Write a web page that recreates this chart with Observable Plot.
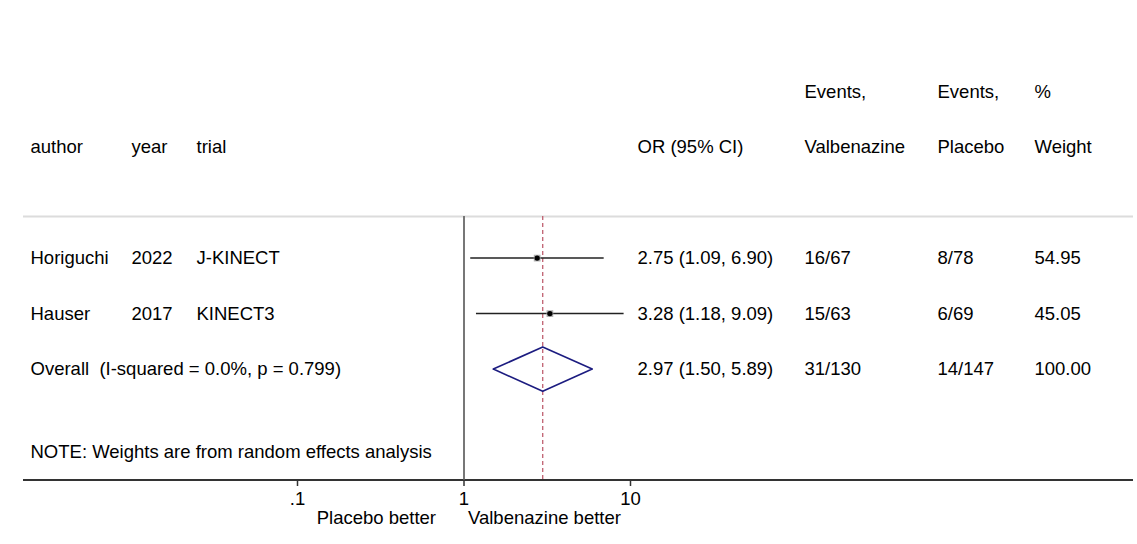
<!DOCTYPE html>
<html>
<head>
<meta charset="utf-8">
<script src="https://cdn.jsdelivr.net/npm/d3@7"></script>
<script src="https://cdn.jsdelivr.net/npm/@observablehq/plot@0.6"></script>
<style>
  html, body { margin: 0; padding: 0; background: #fff; }
  #chart svg { display: block; }
</style>
</head>
<body>
<div id="chart"></div>
<script>
// Study-level results (odds ratios with 95% CI)
const authors = ["Horiguchi", "Hauser"];
const years = ["2022", "2017"];
const trials = ["J-KINECT", "KINECT3"];
const oddsRatio = [2.75, 3.28];
const ciLow = [1.09, 1.18];
const ciHigh = [6.90, 9.09];
const eventsValbenazine = ["16/67", "15/63"];
const eventsPlacebo = ["8/78", "6/69"];
const weights = [54.95, 45.05];

// Pooled (random effects) estimate
const overallOR = 2.97;
const overallLow = 1.50;
const overallHigh = 5.89;
const overallEventsV = "31/130";
const overallEventsP = "14/147";
const overallWeight = 100.00;
const iSquared = 0.0;
const pHet = 0.799;

// Axis ticks and labels
const xTicks = [0.1, 1, 10];
const xTickLabels = [".1", "1", "10"];
const favoursLeft = "Placebo better";
const favoursRight = "Valbenazine better";
const note = "NOTE: Weights are from random effects analysis";

// Table layout: each row has a row index; columns are offsets from the frame's left edge
const FONT = "Liberation Sans, Arial, sans-serif";
const FS = 18.5;
const cols = {author: 7, year: 108, trial: 173, or: 614, evV: 781, evP: 914, weight: 1011};

const fmt2 = d3.format(".2f");
const orText = (o, l, h) => `${fmt2(o)} (${fmt2(l)}, ${fmt2(h)})`;

const studies = authors.map((a, i) => ({
  row: i + 1,
  author: a,
  year: years[i],
  trial: trials[i],
  or: oddsRatio[i],
  lo: ciLow[i],
  hi: ciHigh[i],
  evV: eventsValbenazine[i],
  evP: eventsPlacebo[i],
  weight: weights[i]
}));
const overall = {
  row: 3,
  author: `Overall  (I-squared = ${iSquared.toFixed(1)}%, p = ${pHet.toFixed(3)})`,
  or: overallOR, lo: overallLow, hi: overallHigh,
  evV: overallEventsV, evP: overallEventsP, weight: overallWeight
};
const tableRows = [
  ...studies.map(d => ({row: d.row, author: d.author, year: d.year, trial: d.trial,
    or: orText(d.or, d.lo, d.hi), evV: d.evV, evP: d.evP, weight: fmt2(d.weight)})),
  {row: overall.row, author: overall.author, year: "", trial: "",
    or: orText(overall.or, overall.lo, overall.hi), evV: overall.evV, evP: overall.evP,
    weight: fmt2(overall.weight)}
];

const headerRows = [
  {row: -2, author: "", year: "", trial: "", or: "", evV: "Events,", evP: "Events,", weight: "%"},
  {row: -1, author: "author", year: "year", trial: "trial", or: "OR (95% CI)", evV: "Valbenazine", evP: "Placebo", weight: "Weight"}
];

// Diamond outline for the pooled estimate
const dh = 0.4;
const diamond = [
  {x: overall.lo, y: overall.row},
  {x: overall.or, y: overall.row - dh},
  {x: overall.hi, y: overall.row},
  {x: overall.or, y: overall.row + dh},
  {x: overall.lo, y: overall.row}
];

const rowTop = 0.25, rowBottom = 5;

function column(key, data) {
  return Plot.text(data, {
    y: "row", text: key, frameAnchor: "left", dx: cols[key],
    textAnchor: "start", fontSize: FS, fill: "#000"
  });
}

const allRows = [...headerRows, ...tableRows];

const chart = Plot.plot({
  width: 1137,
  height: 544,
  marginLeft: 23,
  marginRight: 4,
  marginTop: 0,
  marginBottom: 64,
  style: {fontFamily: FONT, fontSize: FS + "px", background: "#fff", color: "#000"},
  x: {type: "log", domain: [0.1, 10], range: [297, 630]},
  y: {type: "linear", domain: [1, 3], range: [257.6, 368.6], axis: null},
  marks: [
    // separator below header and bottom axis line
    Plot.ruleY([rowTop], {stroke: "#dcdcdc", strokeWidth: 2}),
    Plot.ruleY([rowBottom], {stroke: "#333", strokeWidth: 2}),
    // line of no effect and pooled estimate
    Plot.ruleX([1], {y1: rowTop, y2: rowBottom, stroke: "#777", strokeWidth: 2}),
    Plot.ruleX([overall.or], {y1: rowTop, y2: rowBottom, stroke: "#c06070", strokeWidth: 1.3, strokeDasharray: "4,3"}),
    // confidence intervals
    Plot.link(studies, {x1: "lo", x2: "hi", y1: "row", y2: "row", stroke: "#222", strokeWidth: 1.5}),
    // weight boxes and point estimates
    Plot.dot(studies, {x: "or", y: "row", symbol: "square", r: 3.8, fill: "#b0b0b0", stroke: "none"}),
    Plot.dot(studies, {x: "or", y: "row", r: 2.7, fill: "#000", stroke: "none"}),
    // pooled diamond
    Plot.line(diamond, {x: "x", y: "y", stroke: "#1c1c80", strokeWidth: 1.6, fill: "none"}),
    // table columns
    column("author", allRows),
    column("year", allRows),
    column("trial", allRows),
    column("or", allRows),
    column("evV", allRows),
    column("evP", allRows),
    column("weight", allRows),
    Plot.text([note], {y: [4.5], text: d => d, frameAnchor: "left", dx: cols.author, textAnchor: "start", fontSize: FS, fill: "#000"}),
    // x axis
    Plot.axisX(xTicks, {
      anchor: "bottom",
      tickSize: 6,
      tickPadding: 5,
      tickFormat: d => xTickLabels[xTicks.indexOf(d)],
      stroke: "#333",
      strokeWidth: 1.5,
      fontSize: FS,
      fill: "#000",
      label: null
    }),
    // favours labels
    Plot.text([favoursLeft], {x: [1], y: [5.68], text: d => d, textAnchor: "end", dx: -28, fontSize: FS, fill: "#000"}),
    Plot.text([favoursRight], {x: [1], y: [5.68], text: d => d, textAnchor: "start", dx: 4, fontSize: FS, fill: "#000"})
  ]
});

document.getElementById("chart").appendChild(chart);
</script>
</body>
</html>
